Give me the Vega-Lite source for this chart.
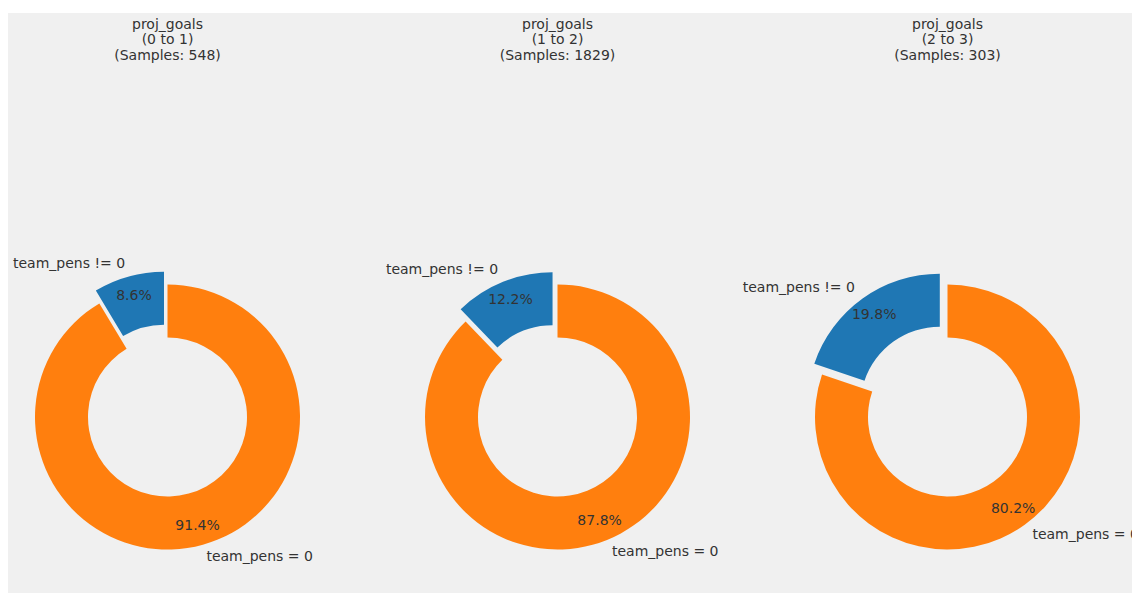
{
  "$schema": "https://vega.github.io/schema/vega-lite/v6.json",
  "background": "white",
  "padding": {"left": 8, "top": 13, "right": 0, "bottom": 1},
  "bounds": "flush",
  "spacing": 0,
  "config": {
    "view": {"fill": "#f0f0f0", "stroke": "#f0f0f0", "strokeWidth": 0},
    "font": "DejaVu Sans",
    "title": {"font": "DejaVu Sans", "fontSize": 14, "fontWeight": "normal", "color": "#333333", "lineHeight": 15.6, "anchor": "middle", "frame": "group", "offset": -50},
    "text": {"font": "DejaVu Sans", "fontSize": 14, "color": "#333333", "baseline": "middle"},
    "arc": {"outerRadius": 132.5, "innerRadius": 79.5}
  },
  "data": {"values": [
    {"panel": "0 to 1", "cat": "team_pens != 0", "share": 0.086},
    {"panel": "0 to 1", "cat": "team_pens = 0", "share": 0.914},
    {"panel": "1 to 2", "cat": "team_pens != 0", "share": 0.122},
    {"panel": "1 to 2", "cat": "team_pens = 0", "share": 0.878},
    {"panel": "2 to 3", "cat": "team_pens != 0", "share": 0.198},
    {"panel": "2 to 3", "cat": "team_pens = 0", "share": 0.802}
  ]},
  "hconcat": [
    {
      "width": 390, "height": 580,
      "view": {"fill": "#f0f0f0", "stroke": "#f0f0f0", "strokeWidth": 0},
      "title": {"text": ["proj_goals", "(0 to 1)", "(Samples: 548)"], "dx": -35.5},
      "transform": [{"filter": "datum.panel == '0 to 1'"}],
      "encoding": {
        "theta": {"field": "share", "type": "quantitative", "stack": true},
        "order": {"field": "cat", "sort": "descending"},
        "color": {"field": "cat", "type": "nominal", "scale": {"domain": ["team_pens != 0", "team_pens = 0"], "range": ["#1f77b4", "#ff7f0e"]}, "legend": null}
      },
      "layer": [
        {"mark": {"type": "arc", "xOffset": -35.5, "yOffset": 114}, "encoding": {"opacity": {"condition": {"test": "datum.cat == 'team_pens = 0'", "value": 1}, "value": 0}}},
        {"mark": {"type": "arc", "xOffset": -39.0, "yOffset": 101.2}, "encoding": {"opacity": {"condition": {"test": "datum.cat == 'team_pens != 0'", "value": 1}, "value": 0}}},
        {"mark": {"type": "text", "radius": 112.6, "align": "center", "xOffset": -35.5, "yOffset": 114}, "encoding": {"text": {"field": "share", "format": ".1%"}, "color": {"value": "#333333"}, "opacity": {"condition": {"test": "datum.cat == 'team_pens = 0'", "value": 1}, "value": 0}}},
        {"mark": {"type": "text", "radius": 112.6, "align": "center", "xOffset": -39.0, "yOffset": 101.2}, "encoding": {"text": {"field": "share", "format": ".1%"}, "color": {"value": "#333333"}, "opacity": {"condition": {"test": "datum.cat == 'team_pens != 0'", "value": 1}, "value": 0}}},
        {"mark": {"type": "text", "radius": 145.75, "align": "left", "xOffset": -35.5, "yOffset": 114}, "encoding": {"text": {"field": "cat"}, "color": {"value": "#333333"}, "opacity": {"condition": {"test": "datum.cat == 'team_pens = 0'", "value": 1}, "value": 0}}},
        {"mark": {"type": "text", "radius": 145.75, "align": "right", "xOffset": -39.0, "yOffset": 101.2}, "encoding": {"text": {"field": "cat"}, "color": {"value": "#333333"}, "opacity": {"condition": {"test": "datum.cat == 'team_pens != 0'", "value": 1}, "value": 0}}}
      ]
    },
    {
      "width": 390, "height": 580,
      "view": {"fill": "#f0f0f0", "stroke": "#f0f0f0", "strokeWidth": 0},
      "title": {"text": ["proj_goals", "(1 to 2)", "(Samples: 1829)"], "dx": -35.5},
      "transform": [{"filter": "datum.panel == '1 to 2'"}],
      "encoding": {
        "theta": {"field": "share", "type": "quantitative", "stack": true},
        "order": {"field": "cat", "sort": "descending"},
        "color": {"field": "cat", "type": "nominal", "scale": {"domain": ["team_pens != 0", "team_pens = 0"], "range": ["#1f77b4", "#ff7f0e"]}, "legend": null}
      },
      "layer": [
        {"mark": {"type": "arc", "xOffset": -35.5, "yOffset": 114}, "encoding": {"opacity": {"condition": {"test": "datum.cat == 'team_pens = 0'", "value": 1}, "value": 0}}},
        {"mark": {"type": "arc", "xOffset": -40.45, "yOffset": 101.7}, "encoding": {"opacity": {"condition": {"test": "datum.cat == 'team_pens != 0'", "value": 1}, "value": 0}}},
        {"mark": {"type": "text", "radius": 112.6, "align": "center", "xOffset": -35.5, "yOffset": 114}, "encoding": {"text": {"field": "share", "format": ".1%"}, "color": {"value": "#333333"}, "opacity": {"condition": {"test": "datum.cat == 'team_pens = 0'", "value": 1}, "value": 0}}},
        {"mark": {"type": "text", "radius": 112.6, "align": "center", "xOffset": -40.45, "yOffset": 101.7}, "encoding": {"text": {"field": "share", "format": ".1%"}, "color": {"value": "#333333"}, "opacity": {"condition": {"test": "datum.cat == 'team_pens != 0'", "value": 1}, "value": 0}}},
        {"mark": {"type": "text", "radius": 145.75, "align": "left", "xOffset": -35.5, "yOffset": 114}, "encoding": {"text": {"field": "cat"}, "color": {"value": "#333333"}, "opacity": {"condition": {"test": "datum.cat == 'team_pens = 0'", "value": 1}, "value": 0}}},
        {"mark": {"type": "text", "radius": 145.75, "align": "right", "xOffset": -40.45, "yOffset": 101.7}, "encoding": {"text": {"field": "cat"}, "color": {"value": "#333333"}, "opacity": {"condition": {"test": "datum.cat == 'team_pens != 0'", "value": 1}, "value": 0}}}
      ]
    },
    {
      "width": 344, "height": 580,
      "view": {"fill": "#f0f0f0", "stroke": "#f0f0f0", "strokeWidth": 0},
      "title": {"text": ["proj_goals", "(2 to 3)", "(Samples: 303)"], "dx": -12.5},
      "transform": [{"filter": "datum.panel == '2 to 3'"}],
      "encoding": {
        "theta": {"field": "share", "type": "quantitative", "stack": true},
        "order": {"field": "cat", "sort": "descending"},
        "color": {"field": "cat", "type": "nominal", "scale": {"domain": ["team_pens != 0", "team_pens = 0"], "range": ["#1f77b4", "#ff7f0e"]}, "legend": null}
      },
      "layer": [
        {"mark": {"type": "arc", "xOffset": -12.5, "yOffset": 114}, "encoding": {"opacity": {"condition": {"test": "datum.cat == 'team_pens = 0'", "value": 1}, "value": 0}}},
        {"mark": {"type": "arc", "xOffset": -20.2, "yOffset": 103.2}, "encoding": {"opacity": {"condition": {"test": "datum.cat == 'team_pens != 0'", "value": 1}, "value": 0}}},
        {"mark": {"type": "text", "radius": 112.6, "align": "center", "xOffset": -12.5, "yOffset": 114}, "encoding": {"text": {"field": "share", "format": ".1%"}, "color": {"value": "#333333"}, "opacity": {"condition": {"test": "datum.cat == 'team_pens = 0'", "value": 1}, "value": 0}}},
        {"mark": {"type": "text", "radius": 112.6, "align": "center", "xOffset": -20.2, "yOffset": 103.2}, "encoding": {"text": {"field": "share", "format": ".1%"}, "color": {"value": "#333333"}, "opacity": {"condition": {"test": "datum.cat == 'team_pens != 0'", "value": 1}, "value": 0}}},
        {"mark": {"type": "text", "radius": 145.75, "align": "left", "clip": true, "xOffset": -12.5, "yOffset": 114}, "encoding": {"text": {"field": "cat"}, "color": {"value": "#333333"}, "opacity": {"condition": {"test": "datum.cat == 'team_pens = 0'", "value": 1}, "value": 0}}},
        {"mark": {"type": "text", "radius": 145.75, "align": "right", "xOffset": -20.2, "yOffset": 103.2}, "encoding": {"text": {"field": "cat"}, "color": {"value": "#333333"}, "opacity": {"condition": {"test": "datum.cat == 'team_pens != 0'", "value": 1}, "value": 0}}}
      ]
    }
  ]
}
